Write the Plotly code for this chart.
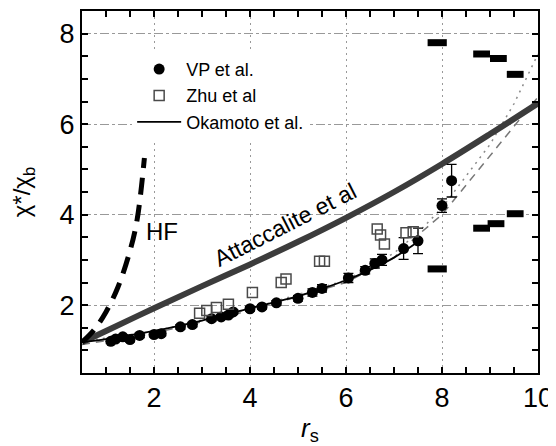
import plotly.graph_objects as go

# VP et al. (filled circles with error bars)
vp_x = [1.1, 1.2, 1.35, 1.5, 1.7, 2.0, 2.15, 2.55, 2.8, 3.2, 3.4, 3.55, 3.65,
        4.0, 4.25, 4.55, 5.0, 5.3, 5.5, 6.05, 6.4, 6.6, 6.75, 7.2, 7.5, 8.0, 8.2]
vp_y = [1.2, 1.25, 1.3, 1.24, 1.33, 1.35, 1.37, 1.52, 1.57, 1.7, 1.74, 1.78, 1.85,
        1.92, 1.96, 2.05, 2.15, 2.28, 2.37, 2.6, 2.77, 2.92, 3.0, 3.25, 3.42, 4.2, 4.75]
vp_err = [0.05, 0.05, 0.05, 0.05, 0.05, 0.05, 0.05, 0.05, 0.05, 0.05, 0.05, 0.05, 0.05,
          0.05, 0.05, 0.05, 0.06, 0.08, 0.08, 0.1, 0.08, 0.1, 0.12, 0.24, 0.28, 0.15, 0.36]

# Zhu et al (open squares)
zhu_x = [2.95, 3.1, 3.3, 3.55, 4.05, 4.65, 4.75, 5.45, 5.55, 6.65, 6.72, 6.8, 7.25, 7.4]
zhu_y = [1.82, 1.88, 1.95, 2.02, 2.28, 2.5, 2.58, 2.97, 2.97, 3.68, 3.55, 3.35, 3.6, 3.62]

# Okamoto et al. (thin solid)
oka_x = [0.5, 1, 2, 3, 4, 5, 6, 6.5, 7, 7.5]
oka_y = [1.18, 1.25, 1.43, 1.66, 1.93, 2.2, 2.55, 2.78, 3.05, 3.4]

# grey dashed / dotted continuations
dash_x = [0.5, 2, 4, 6, 7, 7.5, 8, 8.5, 9, 9.5, 10]
dash_y = [1.13, 1.38, 1.88, 2.5, 3.05, 3.55, 4.0, 4.65, 5.3, 5.95, 6.6]
dot_x = [0.5, 2, 4, 6, 7, 7.5, 8, 8.5, 9, 9.5, 10]
dot_y = [1.2, 1.42, 1.92, 2.55, 3.15, 3.6, 4.15, 4.85, 5.55, 6.45, 7.55]

# Attaccalite et al (thick grey)
att_x = [0.5, 1, 2, 3, 4, 5, 6, 7, 8, 9, 10]
att_y = [1.18, 1.43, 1.93, 2.42, 2.9, 3.4, 3.93, 4.5, 5.12, 5.78, 6.46]

# HF (thick dashed)
hf_x = [0.5, 0.75, 1.0, 1.25, 1.5, 1.65, 1.8]
hf_y = [1.18, 1.45, 1.85, 2.4, 3.2, 3.9, 5.25]

# short thick horizontal bars on the right: (x0, x1, y)
bars = [(7.7, 8.1, 7.8), (8.65, 9.0, 7.55), (9.0, 9.35, 7.45), (9.35, 9.7, 7.1),
        (7.7, 8.1, 2.8), (8.65, 9.0, 3.7), (8.95, 9.3, 3.8), (9.35, 9.7, 4.02)]

FONT = "Arial, Liberation Sans, sans-serif"

fig = go.Figure()

fig.add_trace(go.Scatter(x=dot_x, y=dot_y, mode="lines", showlegend=False,
                         line=dict(color="#8a8a8a", width=1.5, dash="2px,5px")))
fig.add_trace(go.Scatter(x=dash_x, y=dash_y, mode="lines", showlegend=False,
                         line=dict(color="#777777", width=1.5, dash="8px,6px")))
fig.add_trace(go.Scatter(x=att_x, y=att_y, mode="lines", showlegend=False,
                         line=dict(color="#3c3c3c", width=6, shape="spline")))
fig.add_trace(go.Scatter(x=hf_x, y=hf_y, mode="lines", showlegend=False,
                         line=dict(color="black", width=5, dash="17px,10px", shape="spline")))

bx, by = [], []
for x0, x1, y in bars:
    bx += [x0, x1, None]
    by += [y, y, None]
fig.add_trace(go.Scatter(x=bx, y=by, mode="lines", showlegend=False,
                         line=dict(color="black", width=7)))

fig.add_trace(go.Scatter(
    x=vp_x, y=vp_y, mode="markers", name="VP et al.",
    marker=dict(symbol="circle", size=11, color="black"),
    error_y=dict(type="data", array=vp_err, color="black", thickness=1.3, width=5),
))
fig.add_trace(go.Scatter(
    x=zhu_x, y=zhu_y, mode="markers", name="Zhu et al",
    marker=dict(symbol="square-open", size=10, color="#4a4a4a", line=dict(width=1.5)),
))
fig.add_trace(go.Scatter(x=oka_x, y=oka_y, mode="lines", name="Okamoto et al.",
                         line=dict(color="black", width=1.8, shape="spline")))

fig.add_annotation(x=2.17, y=3.62, text="HF", showarrow=False,
                   font=dict(family=FONT, size=24, color="black"))
fig.add_annotation(x=4.72, y=3.78, text="Attaccalite et al", showarrow=False, textangle=-27,
                   font=dict(family=FONT, size=23, color="black"))

axis_common = dict(
    showline=True, linecolor="black", linewidth=2, mirror="ticks",
    ticks="inside", ticklen=6, tickwidth=1.5, tickcolor="black",
    showgrid=True, gridcolor="#999999", gridwidth=1,
    zeroline=False, tickfont=dict(family=FONT, size=27, color="black"),
    minor=dict(ticks="inside", ticklen=6, tickwidth=1.5, tickcolor="black", dtick=0.5,
               showgrid=False),
)

fig.update_xaxes(range=[0.5, 10], tickvals=[2, 4, 6, 8, 10], griddash="2px,4px",
                 title=dict(text="<i>r</i><sub>s</sub>", standoff=6,
                            font=dict(family=FONT, size=26, color="black")),
                 **axis_common)
fig.update_yaxes(range=[0.5, 8.5], tickvals=[2, 4, 6, 8], griddash="dashdot",
                 title=dict(text="χ*/χ<sub>b</sub>", standoff=22,
                            font=dict(family=FONT, size=24, color="black")),
                 **axis_common)

# the page body adds an 8px offset, so the figure is 8px smaller and margins shifted
fig.update_layout(
    width=548, height=438,
    margin=dict(l=74, r=18, t=1, b=73),
    paper_bgcolor="white", plot_bgcolor="white",
    font=dict(family=FONT, color="black"),
    legend=dict(x=0.11, y=0.89, xanchor="left", yanchor="top",
                bgcolor="white", borderwidth=0, itemwidth=44,
                font=dict(family=FONT, size=18, color="black"),
                tracegroupgap=1),
)

fig.write_html("out.html")
